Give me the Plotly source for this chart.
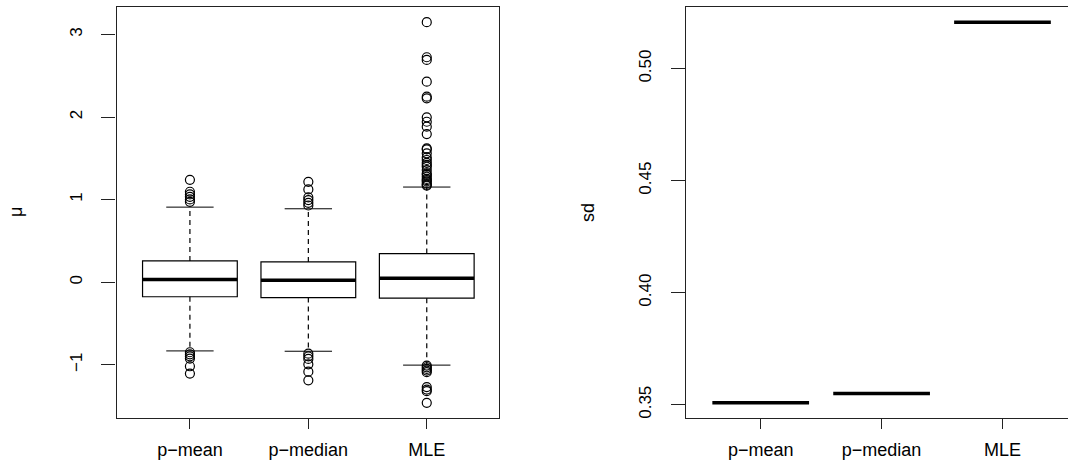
import plotly.graph_objects as go

# ---------------- data ----------------
categories = ["p\u2212mean", "p\u2212median", "MLE"]

q1 = [-0.176, -0.186, -0.194]
median = [0.032, 0.024, 0.048]
q3 = [0.258, 0.246, 0.347]
lower_whisker = [-0.832, -0.836, -1.004]
upper_whisker = [0.909, 0.889, 1.152]

outliers_pmean = [1.24, 1.095, 1.063, 1.034, 1.002, 0.973,
                  -0.848, -0.873, -0.897, -0.925, -1.018, -1.107]
outliers_pmedian = [1.216, 1.124, 1.027, 0.994, 0.961, 0.929,
                    -0.865, -0.897, -0.929, -0.994, -1.083, -1.188]
outliers_mle = [3.148, 2.724, 2.691, 2.428, 2.246, 2.227, 1.996, 1.943, 1.883, 1.794,
                1.62, 1.608, 1.56, 1.511, 1.48, 1.446, 1.42, 1.398, 1.358, 1.317,
                1.30, 1.277, 1.25, 1.236, 1.22, 1.196, 1.18, 1.17,
                -1.01, -1.03, -1.05, -1.07, -1.09, -1.27, -1.30, -1.32, -1.46]
outliers = [outliers_pmean, outliers_pmedian, outliers_mle]

sd_values = [0.3509, 0.355, 0.5207]

mu_ticks = [-1, 0, 1, 2, 3]
sd_ticks = [0.35, 0.40, 0.45, 0.50]

# ---------------- figure ----------------
W, H = 1068, 465
FONT = "Liberation Sans, Arial, Helvetica, sans-serif"
pos = [1, 2, 3]
BOXW = 0.8

fig = go.Figure()

# boxes (left)
for i, p in enumerate(pos):
    fig.add_trace(go.Box(
        x=[p], q1=[q1[i]], median=[median[i]], q3=[q3[i]],
        lowerfence=[q1[i]], upperfence=[q3[i]],
        width=BOXW, fillcolor="white", line=dict(color="black", width=1.2),
        whiskerwidth=0, boxpoints=False, showlegend=False, hoverinfo="skip",
        xaxis="x", yaxis="y"))

# whiskers (dashed)
wx, wy = [], []
for i, p in enumerate(pos):
    wx += [p, p, None, p, p, None]
    wy += [q3[i], upper_whisker[i], None, q1[i], lower_whisker[i], None]
fig.add_trace(go.Scatter(x=wx, y=wy, mode="lines",
                         line=dict(color="black", width=1.2, dash="5px,4px"),
                         showlegend=False, hoverinfo="skip", xaxis="x", yaxis="y"))

# staples
sx, sy = [], []
for i, p in enumerate(pos):
    for v in (upper_whisker[i], lower_whisker[i]):
        sx += [p - BOXW / 4, p + BOXW / 4, None]
        sy += [v, v, None]
fig.add_trace(go.Scatter(x=sx, y=sy, mode="lines",
                         line=dict(color="black", width=1),
                         showlegend=False, hoverinfo="skip", xaxis="x", yaxis="y"))

# medians (thick)
mx, my = [], []
for i, p in enumerate(pos):
    mx += [p - BOXW / 2, p + BOXW / 2, None]
    my += [median[i], median[i], None]
fig.add_trace(go.Scatter(x=mx, y=my, mode="lines",
                         line=dict(color="black", width=3.5),
                         showlegend=False, hoverinfo="skip", xaxis="x", yaxis="y"))

# outliers
for i, p in enumerate(pos):
    fig.add_trace(go.Scatter(x=[p] * len(outliers[i]), y=outliers[i], mode="markers",
                             marker=dict(symbol="circle-open", size=9,
                                         color="black", line=dict(width=1.2)),
                             showlegend=False, hoverinfo="skip", xaxis="x", yaxis="y"))

# right panel: sd values (degenerate boxes -> thick lines)
rx, ry = [], []
for i, p in enumerate(pos):
    rx += [p - BOXW / 2, p + BOXW / 2, None]
    ry += [sd_values[i], sd_values[i], None]
fig.add_trace(go.Scatter(x=rx, y=ry, mode="lines",
                         line=dict(color="black", width=3.5),
                         showlegend=False, hoverinfo="skip", xaxis="x2", yaxis="y2"))

# ranges like R (4% extension)
all_mu = [v for lst in outliers for v in lst] + lower_whisker + upper_whisker
mu_lo, mu_hi = min(all_mu), max(all_mu)
mu_pad = 0.04 * (mu_hi - mu_lo)
sd_lo, sd_hi = min(sd_values), max(sd_values)
sd_pad = 0.04 * (sd_hi - sd_lo)

ydom = [1 - 418 / H, 1 - 7 / H]

axis_common = dict(showgrid=False, zeroline=False, showline=True, linecolor="#222222",
                   linewidth=1.3, ticks="outside", tickcolor="#222222", tickwidth=1.2)

fig.update_layout(
    width=W, height=H,
    margin=dict(l=0, r=0, t=0, b=0),
    paper_bgcolor="white", plot_bgcolor="white",
    font=dict(family=FONT, color="black", size=16),
    xaxis=dict(domain=[116.5 / W, 499 / W], range=[0.38, 3.61],
               tickvals=pos, ticktext=categories, ticklen=10, mirror=True,
               tickfont=dict(size=18), ticklabelstandoff=5, **axis_common),
    yaxis=dict(domain=ydom, range=[mu_lo - mu_pad, mu_hi + mu_pad],
               tickvals=mu_ticks, ticktext=[str(t).replace("-", "\u2212") for t in mu_ticks],
               tickangle=-90, ticklen=14, mirror=True, ticklabelstandoff=13,
               tickfont=dict(size=17), **axis_common),
    xaxis2=dict(domain=[686 / W, 1.0], range=[0.382, 3.542], anchor="y2",
                tickvals=pos, ticktext=categories, ticklen=10, mirror=True,
                tickfont=dict(size=18), ticklabelstandoff=5, **axis_common),
    yaxis2=dict(domain=ydom, range=[sd_lo - sd_pad, sd_hi + sd_pad], anchor="x2",
                tickvals=sd_ticks, ticktext=[f"{t:.2f}" for t in sd_ticks],
                tickangle=-90, ticklen=14, mirror=False, ticklabelstandoff=13,
                tickfont=dict(size=17), **axis_common),
    annotations=[
        dict(text="\u03bc", x=16 / W, y=1 - 212 / H, xref="paper", yref="paper",
             showarrow=False, textangle=-90, font=dict(size=18),
             xanchor="center", yanchor="middle"),
        dict(text="sd", x=588 / W, y=1 - 213 / H, xref="paper", yref="paper",
             showarrow=False, textangle=-90, font=dict(size=18),
             xanchor="center", yanchor="middle"),
    ],
)

fig.write_html("out.html")
